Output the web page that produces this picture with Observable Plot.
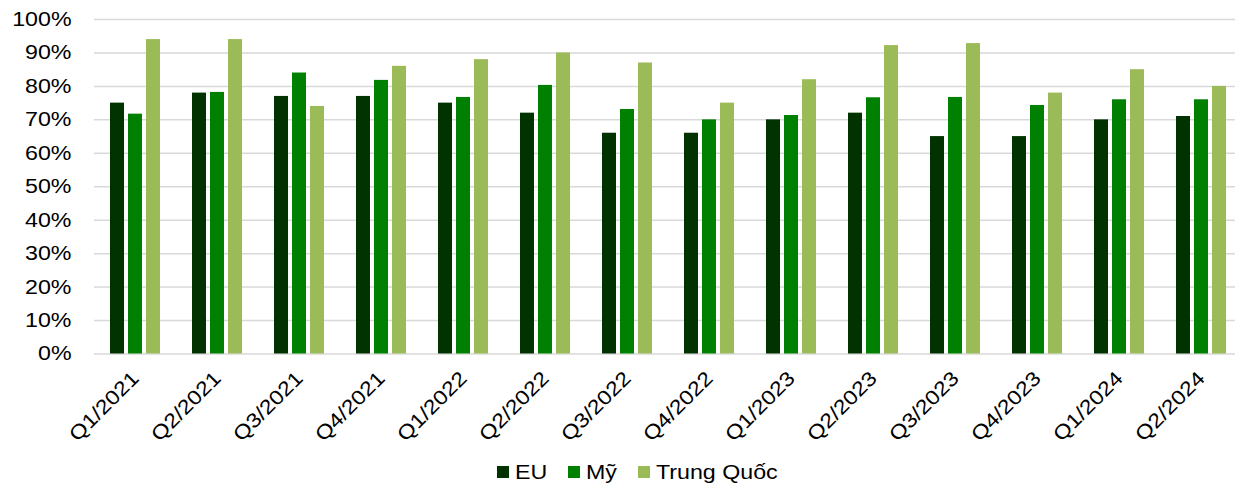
<!DOCTYPE html>
<html><head><meta charset="utf-8">
<script src="https://cdn.jsdelivr.net/npm/d3@7"></script>
<script src="https://cdn.jsdelivr.net/npm/@observablehq/plot@0.6"></script>
<style>
body{margin:0;overflow:hidden;background:#fff;font-family:"Liberation Sans",Arial,sans-serif;}
#legend{display:flex;align-items:center;height:28px;padding-left:497px;font-size:20px;color:#000;white-space:nowrap;}
#legend .item{display:flex;align-items:center;margin-right:21px;}
#legend .sw{width:12px;height:12px;margin-right:6px;}
#legend .lbl{display:inline-block;transform:scaleX(1.16);transform-origin:left center;}
</style>
</head><body>
<div id="chart"></div>
<div id="legend"></div>
<script>
const quarters = ["Q1/2021","Q2/2021","Q3/2021","Q4/2021","Q1/2022","Q2/2022","Q3/2022","Q4/2022","Q1/2023","Q2/2023","Q3/2023","Q4/2023","Q1/2024","Q2/2024"];
const series = ["EU","Mỹ","Trung Quốc"];
const euValues = [75,78,77,77,75,72,66,66,70,72,65,65,70,71];
const myValues = [71.7,78.2,84,81.8,76.7,80.3,73.1,70,71.3,76.6,76.7,74.3,76,76];
const tqValues = [94,94,74,86,88,90,87,75,82,92.2,92.8,78,85,80];
const colors = ["#003300","#008000","#9BBB59"];
const yTicks = [0,0.1,0.2,0.3,0.4,0.5,0.6,0.7,0.8,0.9,1];
const stretch = 1.16;

const data = quarters.flatMap((q,i)=>[
  {quarter:q, series:series[0], value:euValues[i]/100},
  {quarter:q, series:series[1], value:myValues[i]/100},
  {quarter:q, series:series[2], value:tqValues[i]/100}
]);

const chart = Plot.plot({
  width:1245, height:458,
  marginLeft:91, marginRight:0, marginTop:19, marginBottom:104.5,
  style:{fontFamily:'"Liberation Sans",Arial,sans-serif', fontSize:"20px", color:"#000", background:"#fff", maxWidth:"none"},
  fx:{domain:quarters, padding:0, label:null, tickRotate:-45, tickSize:0, tickPadding:21},
  x:{domain:series, paddingInner:0.214, paddingOuter:0.87, axis:null},
  y:{domain:[0,1], ticks:yTicks, tickFormat:d3.format(".0%"), label:null, tickSize:0, tickPadding:23},
  color:{domain:series, range:colors},
  marks:[
    Plot.ruleY(yTicks, {stroke:"#d9d9d9", strokeWidth:1.5}),
    Plot.barY(data, {fx:"quarter", x:"series", y:"value", fill:"series", inset:0})
  ]
});
// widen the glyphs horizontally like the original chart's text
chart.querySelectorAll("text").forEach(t=>{
  const tr = t.getAttribute("transform") || "";
  t.setAttribute("transform", tr + ` scale(${stretch},1)`);
});
document.getElementById("chart").appendChild(chart);

const legend = document.getElementById("legend");
series.forEach((s,i)=>{
  const it = document.createElement("div"); it.className="item";
  const sw = document.createElement("div"); sw.className="sw"; sw.style.background=colors[i];
  const t = document.createElement("span"); t.className="lbl"; t.textContent=s;
  it.appendChild(sw); it.appendChild(t); legend.appendChild(it);
  t.style.marginRight = (t.offsetWidth*(stretch-1)) + "px";
});
</script>
</body></html>
